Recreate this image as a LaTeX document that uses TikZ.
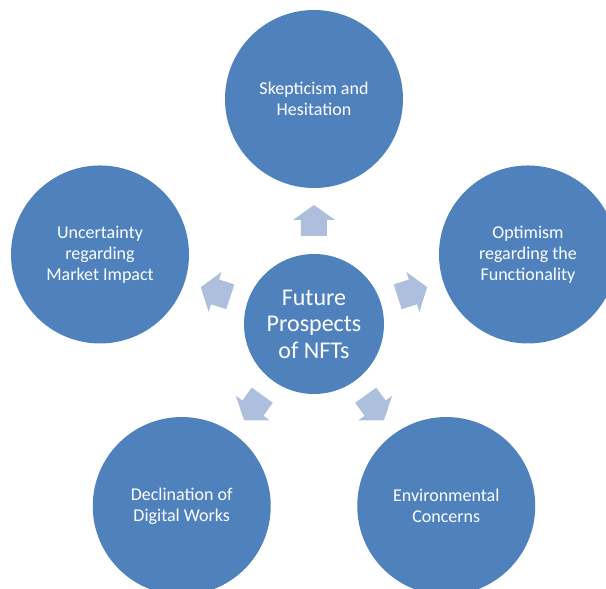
\documentclass[tikz,border=0pt]{standalone}
\usepackage{fontspec}
\setmainfont{Carlito}
\definecolor{smartblue}{HTML}{4F81BD}
\definecolor{arrowblue}{HTML}{ADBFDD}
\tikzset{
        hub/.style={circle, fill=smartblue, text=white, minimum size=140pt, inner sep=0pt, align=center, font=\fontsize{24}{26.5}\selectfont},
        outer/.style={circle, fill=smartblue, text=white, minimum size=178pt, inner sep=0pt, align=center, font=\fontsize{18}{21}\selectfont},
        blockarrow/.style={fill=arrowblue}
          }
\begin{document}
\begin{tikzpicture}[x=1pt, y=1pt]
        \useasboundingbox (-314,-265) rectangle (292,324);
        \clip (-314,-265) rectangle (292,324);
        \node[hub] (hub) at (0,0) {Future\\Prospects\\of NFTs};
        \node[outer] (skepticism) at (90:225) {Skepticism and\\Hesitation};
        \node[outer] (optimism) at (18:225) {Optimism\\regarding the\\Functionality};
        \node[outer] (environment) at (306:225) {Environmental\\Concerns};
        \node[outer] (declination) at (234:225) {Declination of\\Digital Works};
        \node[outer] (uncertainty) at (162:225) {Uncertainty\\regarding\\Market Impact};
        \foreach \ang in {18,90,162,234,306}
          \fill[blockarrow, shift={(hub.center)}, rotate=\ang]
            (88,-13) -- (104,-13) -- (104,-21) -- (119,0) -- (104,21) -- (104,13) -- (88,13) -- cycle;
      \end{tikzpicture}
\end{document}
